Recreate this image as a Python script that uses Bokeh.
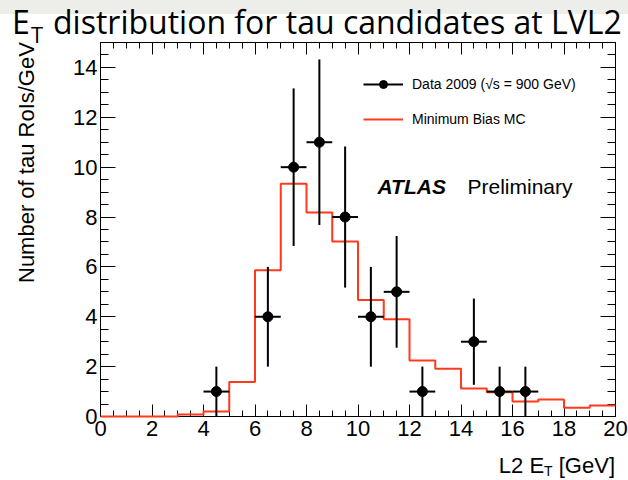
from bokeh.plotting import figure
from bokeh.layouts import column, row
from bokeh.models import (Range1d, LinearAxis, SingleIntervalTicker, Label,
                          Div, Legend, LegendItem)
from bokeh.embed import file_html
from bokeh.resources import INLINE

# Minimum Bias MC histogram (1 GeV bins from 0 to 20 GeV)
bin_edges = list(range(0, 21))
mc_counts = [0.0, 0.0, 0.0, 0.08, 0.2, 1.38, 5.87, 9.33, 8.18, 7.02,
             4.67, 3.9, 2.25, 1.92, 1.12, 0.97, 0.6, 0.68, 0.35, 0.44]

# Data 2009 points: bin centres, entries and their errors
data_x = [4.5, 6.5, 7.5, 8.5, 9.5, 10.5, 11.5, 12.5, 14.5, 15.5, 16.5]
data_y = [1, 4, 10, 11, 8, 4, 5, 1, 3, 1, 1]
data_err = [1.0, 2.0, 3.16, 3.32, 2.83, 2.0, 2.24, 1.0, 1.73, 1.0, 1.0]
half_bin = 0.5

legend_labels = ["Data 2009 (\u221as = 900 GeV)", "Minimum Bias MC"]

W = 628
HEAD_H, FIG_H, XLAB_H = 40, 408, 32
YLAB_W = 60
FIG_W = W - YLAB_W
LEFT, RIGHT, TOP, BOTTOM = 40, 13, 2, 32
X0, X1, Y0, Y1 = 0, 20, 0, 15
FRAME_LEFT = YLAB_W + LEFT                 # page column of the frame's left edge
FRAME_BOTTOM = HEAD_H + FIG_H - BOTTOM     # page row of the frame's bottom edge
FRAME_W = FIG_W - LEFT - RIGHT
FRAME_H = FIG_H - TOP - BOTTOM

MC_RED = "#ff3a1c"
HELV = "Liberation Sans"


def px_x(px):
    """Page pixel column -> data x."""
    return X0 + (px - FRAME_LEFT) / FRAME_W * (X1 - X0)


def px_y(py):
    """Page pixel row -> data y."""
    return Y0 + (FRAME_BOTTOM - py) / FRAME_H * (Y1 - Y0)


p = figure(width=FIG_W, height=FIG_H, x_range=Range1d(X0, X1), y_range=Range1d(Y0, Y1),
           output_backend="svg", toolbar_location=None,
           x_axis_location=None, y_axis_location=None,
           min_border_left=LEFT, min_border_right=RIGHT,
           min_border_top=TOP, min_border_bottom=BOTTOM, margin=0)
p.grid.visible = False
p.outline_line_color = "black"
p.outline_line_width = 1
p.background_fill_color = "white"
p.border_fill_color = "white"


def style_axis(ax, major_in, minor_in, labels=True):
    ax.axis_line_color = "black"
    ax.major_tick_line_color = "black"
    ax.minor_tick_line_color = "black"
    ax.major_tick_in = major_in
    ax.major_tick_out = 0
    ax.minor_tick_in = minor_in
    ax.minor_tick_out = 0
    ax.major_label_text_font = HELV
    if labels:
        ax.major_label_text_color = "black"
        ax.major_label_text_font_size = "22px"
        ax.major_label_standoff = 4
    else:
        ax.major_label_text_color = None
        ax.major_label_text_font_size = "0px"
        ax.major_label_standoff = 0


x_ticker = SingleIntervalTicker(interval=2, num_minor_ticks=4)
y_ticker = SingleIntervalTicker(interval=2, num_minor_ticks=4)

ax_b = LinearAxis(ticker=x_ticker)
style_axis(ax_b, 12, 6)
p.add_layout(ax_b, "below")
ax_t = LinearAxis(ticker=x_ticker)
style_axis(ax_t, 12, 6, labels=False)
p.add_layout(ax_t, "above")
ax_l = LinearAxis(ticker=y_ticker)
style_axis(ax_l, 15, 8)
ax_l.major_label_standoff = 3
p.add_layout(ax_l, "left")
ax_r = LinearAxis(ticker=y_ticker)
style_axis(ax_r, 15, 8, labels=False)
p.add_layout(ax_r, "right")

# MC histogram outline
mc_r = p.step(x=bin_edges, y=mc_counts + [mc_counts[-1]], mode="after",
              line_color=MC_RED, line_width=2, level="overlay")

# data with error bars
x_lo = [x - half_bin for x in data_x]
x_hi = [x + half_bin for x in data_x]
y_lo = [y - e for y, e in zip(data_y, data_err)]
y_hi = [y + e for y, e in zip(data_y, data_err)]
p.segment(x0=data_x, y0=y_lo, x1=data_x, y1=y_hi, line_color="black", line_width=2,
          level="overlay")
hbar_r = p.segment(x0=x_lo, y0=data_y, x1=x_hi, y1=data_y, line_color="black", line_width=2,
                   level="overlay")
dot_r = p.scatter(x=data_x, y=data_y, size=10, marker="circle",
                  fill_color="black", line_color="black", level="overlay")

legend = Legend(items=[LegendItem(label=legend_labels[0], renderers=[hbar_r, dot_r]),
                       LegendItem(label=legend_labels[1], renderers=[mc_r])],
                location=(263, 287), glyph_width=40, glyph_height=20,
                label_height=20, spacing=15, padding=0, margin=0,
                label_standoff=9, border_line_color=None,
                background_fill_alpha=0, label_text_font=HELV,
                label_text_font_size="14px", label_text_color="black")
p.add_layout(legend)

# ATLAS Preliminary
p.add_layout(Label(x=px_x(377), y=px_y(186), text="ATLAS", text_font=HELV,
                   text_font_size="21px", text_font_style="bold italic",
                   text_color="black", text_baseline="alphabetic"))
p.add_layout(Label(x=px_x(467), y=px_y(186), text="Preliminary", text_font=HELV,
                   text_font_size="21px", text_color="black",
                   text_baseline="alphabetic"))

# slide heading: grey band plus "E_T distribution for tau candidates at LVL2"
heading_html = (
    '<div style="position:relative;width:628px;height:40px;overflow:visible;'
    'font-family:\'Open Sans\';color:black;">'
    '<div style="position:absolute;left:0;top:0;width:628px;height:14px;'
    'background:#ededea;"></div>'
    '<span style="position:absolute;left:12px;top:6px;font-size:32px;line-height:32px;'
    'white-space:nowrap;">E</span>'
    '<span style="position:absolute;left:31px;top:23px;font-size:22px;line-height:22px;'
    'white-space:nowrap;">T</span>'
    '<span style="position:absolute;left:53px;top:6px;font-size:32px;line-height:32px;'
    'white-space:nowrap;">distribution for tau candidates at LVL2</span>'
    '</div>'
)
heading = Div(text=heading_html, width=W, height=HEAD_H, margin=0,
              styles={"overflow": "visible", "z-index": "2"})

# y-axis title, reading upwards and ending level with the top of the frame
ylabel_html = (
    '<div style="position:relative;width:60px;height:408px;'
    'font-family:\'Liberation Sans\';color:black;">'
    '<span style="position:absolute;left:16px;top:243px;font-size:22px;line-height:22px;'
    'white-space:nowrap;transform-origin:0 0;transform:rotate(-90deg);">'
    'Number of tau RoIs/GeV</span></div>'
)
ylabel = Div(text=ylabel_html, width=YLAB_W, height=FIG_H, margin=0,
             styles={"overflow": "visible"})

# x-axis title: "L2 E_T [GeV]", right-aligned with the frame
xlabel_html = (
    '<div style="position:relative;width:628px;height:32px;'
    'font-family:\'Liberation Sans\';color:black;">'
    '<span style="position:absolute;right:13px;top:7px;font-size:22px;line-height:22px;'
    'white-space:nowrap;">L2 E<span style="font-size:14px;position:relative;top:3px;">T</span>'
    ' [GeV]</span></div>'
)
xlabel = Div(text=xlabel_html, width=W, height=XLAB_H, margin=0)

layout = column(heading, row(ylabel, p, spacing=0), xlabel, spacing=0)

open("out.html", "w").write(file_html(layout, INLINE))
